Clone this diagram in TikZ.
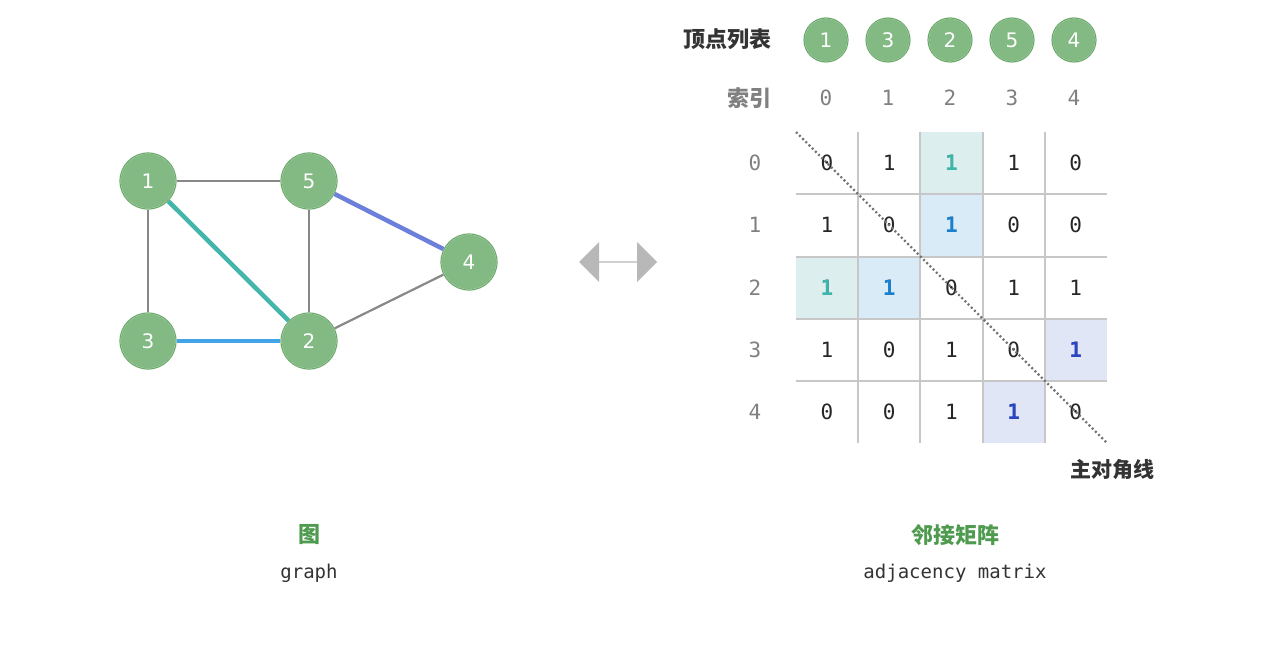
\documentclass[tikz,border=0pt]{standalone}
\usepackage{fontspec}
\setmainfont{DejaVu Sans}
\setmonofont{DejaVu Sans Mono}
\newfontfamily\cjk{Noto Sans CJK SC}
\usetikzlibrary{arrows.meta,shapes.arrows}
\definecolor{vg}{HTML}{83B983}
\definecolor{vgd}{HTML}{6DAA6D}
\definecolor{eg}{HTML}{888888}
\definecolor{et}{HTML}{44B5AA}
\definecolor{eb}{HTML}{42A5E8}
\definecolor{ei}{HTML}{6B7FDB}
\definecolor{ct}{HTML}{DCEFEE}
\definecolor{cb}{HTML}{DAEBF8}
\definecolor{ci}{HTML}{E1E6F7}
\definecolor{tt}{HTML}{3DB5A9}
\definecolor{tb}{HTML}{1A7FCC}
\definecolor{ti}{HTML}{2A45C4}
\definecolor{lab}{HTML}{4E9A4E}
\tikzset{x=1pt,y=-1pt,
 vtx/.style={circle,fill=vg,draw=white,line width=1.3pt,minimum size=56pt,inner sep=0pt,text=white,font=\fontsize{20}{20}\selectfont,
   postaction={draw=vgd,line width=1.2pt,shape=circle}},
 vsm/.style={vtx,minimum size=44pt},
 edge/.style={draw=eg,line width=2.2pt},
 num/.style={font=\ttfamily\fontsize{21}{21}\selectfont,text=black!85},
 idx/.style={font=\ttfamily\fontsize{21}{21}\selectfont,text=black!50},
 grid/.style={draw=black!22,line width=1.3pt}}
\begin{document}
\begin{tikzpicture}
\path[use as bounding box] (0,0) rectangle (1280,666);
% graph
\node[vtx] (n1) at (148,181) {1};
\node[vtx] (n5) at (309,181) {5};
\node[vtx] (n4) at (469,262) {4};
\node[vtx] (n3) at (148,341) {3};
\node[vtx] (n2) at (309,341) {2};
\begin{scope}[on background layer/.style={}]
\end{scope}
\draw[edge] (n1) -- (n5);
\draw[edge] (n1) -- (n3);
\draw[edge] (n5) -- (n2);
\draw[edge] (n2) -- (n4);
\draw[edge,draw=et,line width=4.5pt] (n1) -- (n2);
\draw[edge,draw=eb,line width=4.5pt] (n3) -- (n2);
\draw[edge,draw=ei,line width=4.5pt] (n5) -- (n4);
% double arrow
\node[double arrow,fill=black!28,minimum width=40pt,minimum height=78pt,double arrow head extend=6pt,inner sep=0pt] (da) at (618,262) {};
% vertex list
\node[anchor=east,font=\cjk\bfseries\fontsize{22}{22}\selectfont,text=black!80] (vl) at (775,39) {顶点列表};
\node[anchor=east,font=\cjk\bfseries\fontsize{22}{22}\selectfont,text=black!50] (il) at (775,98) {索引};
\foreach \v/\x [count=\i from 0] in {1/826,3/888,2/950,5/1012,4/1074}{
  \node[vsm] (l\i) at (\x,40) {\v};
  \node[idx] (ix\i) at (\x,98) {\i};
  \node[idx] (iy\i) at (755,163+62.2*\i) {\i};
}
% cells
\fill[ct] (920,132) rectangle (983,194);
\fill[cb] (920,194) rectangle (983,257);
\fill[ct] (796,257) rectangle (858,319);
\fill[cb] (858,257) rectangle (920,319);
\fill[ci] (1045,319) rectangle (1107,381);
\fill[ci] (983,381) rectangle (1045,443);
\foreach \x in {858,920,983,1045} \draw[grid] (\x,132) -- (\x,443);
\foreach \y in {194,257,319,381} \draw[grid] (796,\y) -- (1107,\y);
\foreach \r [count=\i from 0] in {{0,1,1,1,0},{1,0,1,0,0},{1,1,0,1,1},{1,0,1,0,1},{0,0,1,1,0}}{
  \foreach \c [count=\j from 0] in \r {
    \node[num] (m\i\j) at (827+62.2*\j,163+62.2*\i) {\c};
  }
}
\foreach \a/\col in {02/tt,12/tb,20/tt,21/tb,34/ti,43/ti}{
  \node[num,text=\col,font=\ttfamily\bfseries\fontsize{21}{21}\selectfont] at (m\a) {1};
}
\coordinate (d0) at (796,132);
\coordinate (d1) at (1107,443);
\draw[black!55,line width=2.2pt,dash pattern=on 2pt off 2.5pt] (d0) -- (d1);
\node[font=\cjk\bfseries\fontsize{21}{21}\selectfont,text=black!80] (dg) at (1112,470) {主对角线};
% captions
\node[font=\cjk\bfseries\fontsize{22}{22}\selectfont,text=lab] (c1) at (309,535) {图};
\node[font=\ttfamily\fontsize{19}{19}\selectfont,text=black!80] (c2) at (309,573) {graph};
\node[font=\cjk\bfseries\fontsize{22}{22}\selectfont,text=lab] (c3) at (955,535) {邻接矩阵};
\node[font=\ttfamily\fontsize{19}{19}\selectfont,text=black!80] (c4) at (955,573) {adjacency matrix};
\end{tikzpicture}
\end{document}
